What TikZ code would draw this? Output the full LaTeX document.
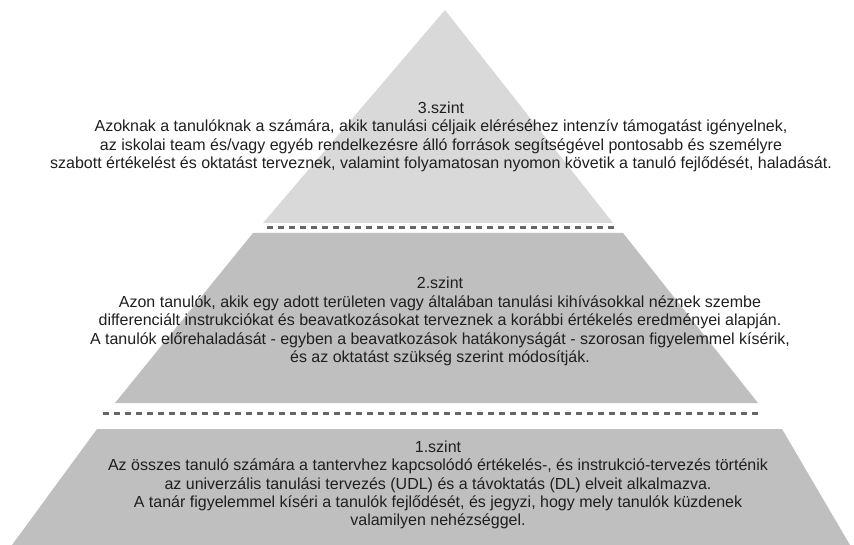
\documentclass[tikz,border=0pt]{standalone}
\usepackage{fontspec}
\setmainfont{Liberation Sans}
\usetikzlibrary{positioning}
\definecolor{lightgr}{HTML}{D9D9D9}
\definecolor{midgr}{HTML}{BFBFBF}
\definecolor{dashgr}{HTML}{666666}

\begin{document}
\begin{tikzpicture}[x=1pt, y=-1pt,
    tier/.style={%
      fill=midgr, draw=none
    },
    sep/.style={%
      draw=dashgr, line width=3pt, dash pattern=on 6pt off 5pt
    },
    txt/.style={%
      align=center, font=\fontsize{16}{18.4}\selectfont, text=black!88, inner sep=0pt
    }
]
  \useasboundingbox (0,0) rectangle (854,545);
  % tiers
  \fill[tier, fill=lightgr] (445,10) -- (613,223) -- (263,223) -- cycle;
  \fill[tier] (253,233) -- (623,233) -- (758,403) -- (115,403) -- cycle;
  \fill[tier] (97,429) -- (782,429) -- (850,545) -- (12,545) -- cycle;
  % separators
  \draw[sep] (267,228) -- (616,228);
  \draw[sep] (103,413) -- (762,413);

  \node[txt] (3) at (441,137) {3.szint\\
    Azoknak a tanulóknak a számára, akik tanulási céljaik eléréséhez intenzív támogatást igényelnek,\\
    az iskolai team és/vagy egyéb rendelkezésre álló források segítségével pontosabb és személyre\\
    szabott értékelést és oktatást terveznek, valamint folyamatosan nyomon követik a tanuló fejlődését, haladását.};
  \node[txt] (2) at (440,321.5) {2.szint\\
    Azon tanulók, akik egy adott területen vagy általában tanulási kihívásokkal néznek szembe\\
    differenciált instrukciókat és beavatkozásokat terveznek a korábbi értékelés eredményei alapján.\\
    A tanulók előrehaladását - egyben a beavatkozások hatákonyságát - szorosan figyelemmel kísérik,\\
    és az oktatást szükség szerint módosítják.};
  \node[txt] (1) at (438,485) {1.szint\\
    Az összes tanuló számára a tantervhez kapcsolódó értékelés-, és instrukció-tervezés történik\\
    az univerzális tanulási tervezés (UDL) és a távoktatás (DL) elveit alkalmazva.\\
    A tanár figyelemmel kíséri a tanulók fejlődését, és jegyzi, hogy mely tanulók küzdenek\\
    valamilyen nehézséggel.};
\end{tikzpicture}
\end{document}
